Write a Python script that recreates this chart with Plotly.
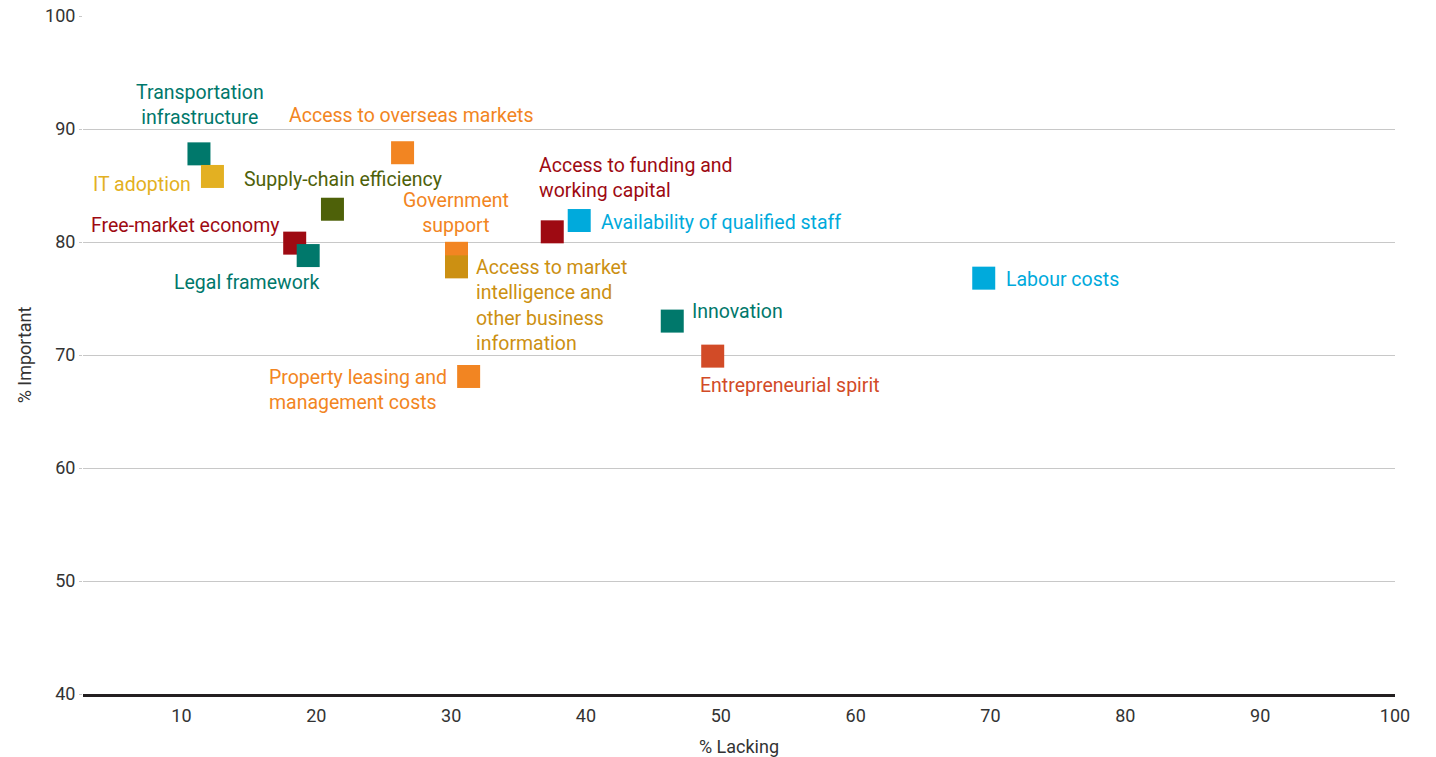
import plotly.graph_objects as go

# Business factors: share rating each as lacking (x) vs important (y)
factors = [
    "Transportation<br>infrastructure",
    "IT adoption",
    "Access to overseas markets",
    "Supply-chain efficiency",
    "Free-market economy",
    "Legal framework",
    "Government<br>support",
    "Access to market<br>intelligence and<br>other business<br>information",
    "Access to funding and<br>working capital",
    "Availability of qualified staff",
    "Innovation",
    "Entrepreneurial spirit",
    "Property leasing and<br>management costs",
    "Labour costs",
]
pct_lacking = [11.3, 12.3, 26.4, 21.2, 18.4, 19.4, 30.4, 30.4, 37.5, 39.5, 46.4, 49.4, 31.3, 69.5]
pct_important = [87.8, 85.8, 87.9, 82.9, 79.9, 78.8, 79.0, 77.8, 80.9, 81.9, 73.0, 69.9, 68.1, 76.8]

colors = [
    "#00786B", "#E3B022", "#F28522", "#4E6109", "#9E0A12", "#00786B", "#F28522",
    "#CC9012", "#9E0A12", "#00AADC", "#00786B", "#D24B27", "#F28522", "#00AADC",
]

x_ticks = [10, 20, 30, 40, 50, 60, 70, 80, 90, 100]
y_ticks = [40, 50, 60, 70, 80, 90, 100]

# Label placement relative to each marker: (xanchor, dx px, dy px to block centre, text align)
label_pos = [
    ("center", 1.5, -48.5, "center"),
    ("right", -19, 8.5, "right"),
    ("center", 9, -37, "center"),
    ("center", 10.5, -30, "center"),
    ("right", -14, -17.5, "right"),
    ("right", 13, 27, "right"),
    ("center", -0.5, -40, "center"),
    ("left", 17, 38.5, "left"),
    ("left", -15, -54, "left"),
    ("left", 20, 1.5, "left"),
    ("left", 18, -10, "left"),
    ("left", -15, 29.5, "left"),
    ("right", -20, 13.5, "left"),
    ("left", 20, 1.5, "left"),
]

label_font = "Roboto, sans-serif"
tick_font = "Roboto, sans-serif"

fig = go.Figure()
fig.add_trace(go.Scatter(
    x=pct_lacking,
    y=pct_important,
    mode="markers",
    marker=dict(symbol="square", size=23, color=colors, line=dict(width=0)),
    hovertext=[f.replace("<br>", " ") for f in factors],
    hoverinfo="text+x+y",
    showlegend=False,
))

annotations = []
for name, xv, yv, col, (xa, dx, dy, al) in zip(factors, pct_lacking, pct_important, colors, label_pos):
    annotations.append(dict(
        x=xv, y=yv, xref="x", yref="y",
        text=name, showarrow=False,
        xanchor=xa, yanchor="middle",
        xshift=dx, yshift=-dy,
        font=dict(family=label_font, size=19.5, color=col),
        align=al,
    ))

fig.update_layout(
    width=1436, height=757,
    margin=dict(l=83, r=41, t=16, b=63),
    paper_bgcolor="white", plot_bgcolor="white",
    annotations=annotations,
    font=dict(family=tick_font, color="#333333"),
)
fig.update_xaxes(
    range=[2.7, 100],
    tickvals=x_ticks,
    ticktext=[str(v) for v in x_ticks],
    showgrid=False, zeroline=False,
    showline=True, linecolor="#231F20", linewidth=3,
    ticks="", ticklabelstandoff=3,
    tickfont=dict(size=18, color="#333333"),
    title=dict(text="% Lacking", font=dict(size=18, color="#333333"), standoff=22),
    automargin=False,
)
fig.update_yaxes(
    range=[40, 100],
    tickvals=y_ticks,
    ticktext=[str(v) for v in y_ticks],
    showgrid=True, gridcolor="#C8C8C8", gridwidth=1,
    zeroline=False, showline=False,
    ticks="outside", ticklen=3, tickcolor="#C8C8C8",
    tickfont=dict(size=18, color="#333333"),
    title=dict(text="% Important", font=dict(size=18, color="#333333"), standoff=8),
    automargin=False,
)

fig.write_html("out.html")
